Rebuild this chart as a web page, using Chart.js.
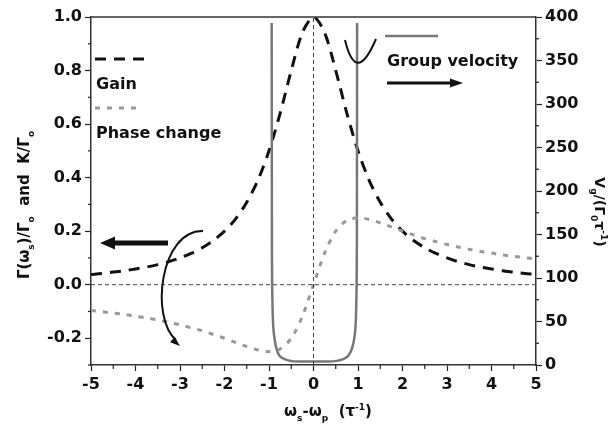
<!DOCTYPE html>
<html><head><meta charset="utf-8">
<script src="https://cdn.jsdelivr.net/npm/chart.js@4.4.1/dist/chart.umd.min.js"></script>
<style>html,body{margin:0;padding:0;background:#fff}canvas{display:block}</style>
</head><body>
<canvas id="c" width="610" height="426" style="width:610px;height:426px"></canvas>
<script>
// ---- data ----
const detuning = [-5,-4.75,-4.5,-4.25,-4,-3.75,-3.5,-3.25,-3,-2.75,-2.5,-2.25,-2,-1.75,-1.5,-1.25,-1,-0.75,-0.5,-0.25,0,
                  0.25,0.5,0.75,1,1.25,1.5,1.75,2,2.25,2.5,2.75,3,3.25,3.5,3.75,4,4.25,4.5,4.75,5];
const gain = [0.038,0.042,0.047,0.052,0.059,0.066,0.075,0.086,0.100,0.117,0.138,0.165,0.200,0.246,0.308,0.390,0.500,0.640,0.800,0.941,1.000,
              0.941,0.800,0.640,0.500,0.390,0.308,0.246,0.200,0.165,0.138,0.117,0.100,0.086,0.075,0.066,0.059,0.052,0.047,0.042,0.038];
const phaseChange = [-0.096,-0.101,-0.106,-0.111,-0.118,-0.124,-0.132,-0.141,-0.150,-0.161,-0.172,-0.186,-0.200,-0.216,-0.231,-0.244,-0.250,-0.240,-0.200,-0.118,0,
                     0.118,0.200,0.240,0.250,0.244,0.231,0.216,0.200,0.186,0.172,0.161,0.150,0.141,0.132,0.124,0.118,0.111,0.106,0.101,0.096];
const groupX = [-0.94,-0.935,-0.925,-0.91,-0.88,-0.84,-0.78,-0.7,-0.55,-0.3,0,0.3,0.55,0.72,0.8,0.87,0.92,0.95,0.965,0.975,0.98];
const groupV = [393,150,80,50,32,20,12,8,5,4,4,4,5,8,12,20,32,50,80,150,393];
const zeroLineX = [-5, 5];      // horizontal reference line at Γ = 0
const centerLineY = [-0.3, 1.0]; // vertical reference line at ω = 0
const xRange = [-5, 5];
const yLeftRange = [-0.3, 1.0];
const yRightRange = [0, 400];
const legendLabels = ['Gain', 'Phase change', 'Group velocity'];

const pts = (xs, ys) => xs.map((x, i) => ({x, y: ys[i]}));
const FONT = "'DejaVu Sans', sans-serif";
const near = (v, step) => Math.abs(v / step - Math.round(v / step)) < 1e-6;

function drawRich(ctx, parts, cx, cy, rot, size) {
  ctx.save();
  ctx.translate(cx, cy); ctx.rotate(rot);
  const main = `bold ${size}px ${FONT}`, small = `bold ${Math.round(size * 0.62)}px ${FONT}`;
  let w = 0;
  parts.forEach(p => { ctx.font = p.s ? small : main; p.w = ctx.measureText(p.t).width; w += p.w; });
  let x = -w / 2;
  ctx.textBaseline = 'alphabetic'; ctx.textAlign = 'left'; ctx.fillStyle = '#111';
  parts.forEach(p => {
    ctx.font = p.s ? small : main;
    const dy = p.s === 'sub' ? size * 0.3 : p.s === 'sup' ? -size * 0.45 : 0;
    ctx.fillText(p.t, x, size * 0.36 + dy);
    x += p.w;
  });
  ctx.restore();
}
function arrowHead(ctx, tx, ty, ang, len, half) {
  ctx.save(); ctx.translate(tx, ty); ctx.rotate(ang);
  ctx.beginPath(); ctx.moveTo(0, 0); ctx.lineTo(-len, -half); ctx.lineTo(-len, half); ctx.closePath(); ctx.fill();
  ctx.restore();
}

const decor = {
  id: 'decor',
  afterDraw(chart) {
    const ctx = chart.ctx, a = chart.chartArea, sc = chart.scales;
    ctx.save();
    // top frame line
    ctx.strokeStyle = '#333'; ctx.lineWidth = 1.5;
    ctx.beginPath(); ctx.moveTo(a.left, a.top); ctx.lineTo(a.right, a.top); ctx.stroke();
    // minor ticks
    ctx.lineWidth = 1.2; ctx.strokeStyle = '#222';
    sc.x.ticks.forEach(t => { if (!near(t.value, 1)) { const p = sc.x.getPixelForValue(t.value); ctx.beginPath(); ctx.moveTo(p, a.bottom); ctx.lineTo(p, a.bottom + 4); ctx.stroke(); } });
    sc.y.ticks.forEach(t => { if (!near(t.value, 0.2)) { const p = sc.y.getPixelForValue(t.value); ctx.beginPath(); ctx.moveTo(a.left, p); ctx.lineTo(a.left - 3, p); ctx.stroke(); } });
    sc.y2.ticks.forEach(t => { if (!near(t.value, 50)) { const p = sc.y2.getPixelForValue(t.value); ctx.beginPath(); ctx.moveTo(a.right, p); ctx.lineTo(a.right + 3, p); ctx.stroke(); } });

    // legend
    ctx.lineCap = 'butt';
    ctx.strokeStyle = '#111'; ctx.lineWidth = 3; ctx.setLineDash([11, 8]);
    ctx.beginPath(); ctx.moveTo(95, 59); ctx.lineTo(150, 59); ctx.stroke();
    ctx.strokeStyle = '#999'; ctx.lineWidth = 3; ctx.setLineDash([5, 7]);
    ctx.beginPath(); ctx.moveTo(95, 108); ctx.lineTo(142, 108); ctx.stroke();
    ctx.setLineDash([]);
    ctx.strokeStyle = '#777'; ctx.lineWidth = 2.5;
    ctx.beginPath(); ctx.moveTo(385, 36); ctx.lineTo(438, 36); ctx.stroke();
    ctx.fillStyle = '#111'; ctx.font = `bold 16px ${FONT}`; ctx.textBaseline = 'middle'; ctx.textAlign = 'left';
    ctx.fillText(legendLabels[0], 96, 85);
    ctx.fillText(legendLabels[1], 96, 134);
    ctx.fillText(legendLabels[2], 387, 62);

    // arrows
    ctx.strokeStyle = '#111'; ctx.fillStyle = '#111';
    ctx.lineWidth = 3;
    ctx.beginPath(); ctx.moveTo(387, 83); ctx.lineTo(452, 83); ctx.stroke();
    arrowHead(ctx, 463, 83, 0, 13, 4.5);
    ctx.lineWidth = 5;
    ctx.beginPath(); ctx.moveTo(168, 243); ctx.lineTo(112, 243); ctx.stroke();
    arrowHead(ctx, 100, 243, Math.PI, 15, 6.5);
    ctx.lineWidth = 2;
    ctx.beginPath(); ctx.moveTo(203, 231); ctx.bezierCurveTo(160, 230, 150, 318, 176, 340); ctx.stroke();
    arrowHead(ctx, 180, 346, Math.atan2(22, 26), 10, 3.5);
    ctx.beginPath(); ctx.moveTo(345, 40); ctx.quadraticCurveTo(356, 86, 376, 39); ctx.stroke();

    // axis titles
    drawRich(ctx, [{t:'ω'},{t:'s',s:'sub'},{t:'-ω'},{t:'p',s:'sub'},{t:'  (τ'},{t:'-1',s:'sup'},{t:')'}], 328, 411, 0, 15);
    drawRich(ctx, [{t:'Γ(ω'},{t:'s',s:'sub'},{t:')/Γ'},{t:'o',s:'sub'},{t:'  and  K/Γ'},{t:'o',s:'sub'}], 24, 205, -Math.PI / 2, 15);
    drawRich(ctx, [{t:'V'},{t:'g',s:'sub'},{t:'/(Γ'},{t:'0',s:'sub'},{t:'τ'},{t:'-1',s:'sup'},{t:')'}], 600, 212, Math.PI / 2, 14);
    ctx.restore();
  }
};

const tickFont = {family: FONT, size: 16, weight: 'bold'};
new Chart(document.getElementById('c'), {
  type: 'scatter',
  data: {
    datasets: [
      {label: 'zero', data: pts(zeroLineX, [0, 0]), yAxisID: 'y', showLine: true, borderColor: '#444', borderWidth: 1, borderDash: [4, 3], pointRadius: 0},
      {label: 'center', data: pts([0, 0], centerLineY), yAxisID: 'y', showLine: true, borderColor: '#444', borderWidth: 1, borderDash: [4, 3], pointRadius: 0},
      {label: legendLabels[1], data: pts(detuning, phaseChange), yAxisID: 'y', showLine: true, borderColor: '#999', borderWidth: 3, borderDash: [5, 7], pointRadius: 0, tension: 0.3},
      {label: legendLabels[2], data: pts(groupX, groupV), yAxisID: 'y2', showLine: true, borderColor: '#777', borderWidth: 2.5, pointRadius: 0, cubicInterpolationMode: 'monotone'},
      {label: legendLabels[0], data: pts(detuning, gain), yAxisID: 'y', showLine: true, borderColor: '#111', borderWidth: 3, borderDash: [11, 8], pointRadius: 0, tension: 0.3}
    ]
  },
  options: {
    responsive: false, animation: false, devicePixelRatio: 1,
    layout: {padding: {top: 17, left: 0, right: 0, bottom: 0}},
    plugins: {legend: {display: false}, tooltip: {enabled: false}},
    scales: {
      x: {
        type: 'linear', min: xRange[0], max: xRange[1],
        afterFit: s => { s.height = 61; },
        ticks: {stepSize: 0.5, color: '#111', font: tickFont, padding: 4, maxRotation: 0, autoSkip: false,
                callback: v => near(v, 1) ? String(Math.round(v)) : ''},
        grid: {drawOnChartArea: false, tickLength: 6, tickWidth: 1.2, tickColor: c => near(c.tick.value, 1) ? '#222' : 'rgba(0,0,0,0)'},
        border: {color: '#333', width: 1.5}
      },
      y: {
        position: 'left', min: yLeftRange[0], max: yLeftRange[1],
        afterFit: s => { s.width = 91; },
        ticks: {stepSize: 0.1, color: '#111', font: tickFont, padding: 3, autoSkip: false,
                callback: v => near(v, 0.2) ? (Math.abs(v) < 1e-9 ? '0.0' : v.toFixed(1)) : ''},
        grid: {drawOnChartArea: false, tickLength: 6, tickWidth: 1.2, tickColor: c => near(c.tick.value, 0.2) ? '#222' : 'rgba(0,0,0,0)'},
        border: {color: '#333', width: 1.5}
      },
      y2: {
        position: 'right', min: yRightRange[0], max: yRightRange[1],
        afterFit: s => { s.width = 74; },
        ticks: {stepSize: 25, color: '#111', font: tickFont, padding: 3, autoSkip: false,
                callback: v => near(v, 50) ? String(Math.round(v)) : ''},
        grid: {drawOnChartArea: false, tickLength: 6, tickWidth: 1.2, tickColor: c => near(c.tick.value, 50) ? '#222' : 'rgba(0,0,0,0)'},
        border: {color: '#333', width: 1.5}
      }
    }
  },
  plugins: [decor]
});
</script></body></html>
